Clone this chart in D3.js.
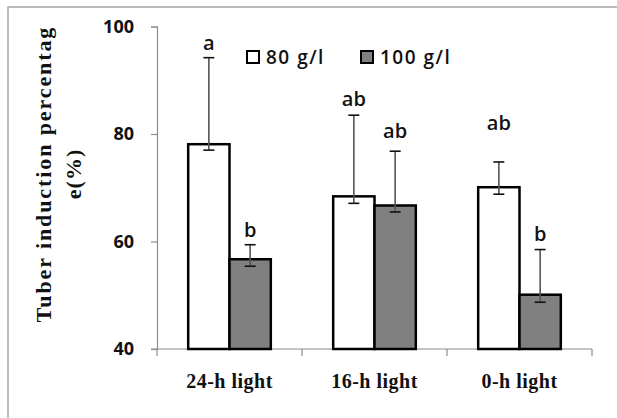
<!DOCTYPE html>
<html>
<head>
<meta charset="utf-8">
<script src="https://cdn.jsdelivr.net/npm/d3@7"></script>
<style>
  html, body { margin: 0; padding: 0; background: #fff; }
  svg { display: block; }
</style>
</head>
<body>
<svg id="chart" width="617" height="418"></svg>
<script>
// ---- data ----
const categories = ["24-h light", "16-h light", "0-h light"];
const seriesNames = ["80 g/l", "100 g/l"];
const values80  = [78.1, 68.4, 70.1];
const values100 = [56.7, 66.7, 50.1];
const errPlus80  = [16.1, 15.1, 4.7];
const errMinus80 = [1.1, 1.3, 1.3];
const errPlus100  = [2.7, 10.1, 8.4];
const errMinus100 = [1.3, 1.2, 1.4];
const letters80  = ["a", "ab", "ab"];
const letters100 = ["b", "ab", "b"];
const letterY80  = [95.6, 85.3, 80.7];
const letterY100 = [60.8, 79.3, 60.1];
const yTicks = [40, 60, 80, 100];
const yTitleLines = ["Tuber induction percentag", "e(%)"];

const series = [
  { name: seriesNames[0], values: values80, plus: errPlus80, minus: errMinus80, letters: letters80, letterY: letterY80, fill: "#ffffff" },
  { name: seriesNames[1], values: values100, plus: errPlus100, minus: errMinus100, letters: letters100, letterY: letterY100, fill: "#808080" }
];

const svg = d3.select("#chart");

// chart area border
svg.append("rect")
  .attr("x", 8).attr("y", 7).attr("width", 640).attr("height", 440)
  .attr("fill", "none").attr("stroke", "#a6a6a6").attr("stroke-width", 1.5);

const x0 = d3.scaleBand().domain(categories).range([157, 592]).paddingInner(0).paddingOuter(0);
const x1 = d3.scaleBand().domain(seriesNames).range([0, x0.bandwidth()]).paddingInner(0).paddingOuter(0.755);
const y = d3.scaleLinear().domain([40, 100]).range([349, 26.5]);

// y axis
const yAxis = svg.append("g").attr("transform", "translate(157,0)")
  .call(d3.axisLeft(y).tickValues(yTicks).tickSize(6).tickPadding(17).tickFormat(d3.format("d")));
yAxis.select(".domain").attr("stroke", "#8c8c8c").attr("stroke-width", 1.2);
yAxis.selectAll(".tick line").attr("stroke", "#8c8c8c").attr("stroke-width", 1.2);
yAxis.selectAll(".tick text")
  .attr("font-family", "'Open Sans', sans-serif").attr("font-size", 18).attr("font-weight", "bold")
  .attr("fill", "#111");

// x axis
const xAxis = svg.append("g").attr("transform", "translate(0,349)");
xAxis.append("line").attr("x1", 151).attr("x2", 592).attr("y1", 0).attr("y2", 0)
  .attr("stroke", "#8c8c8c").attr("stroke-width", 1.2);
const bounds = categories.map(c => x0(c)).concat([x0.range()[1]]);
xAxis.selectAll("line.tk").data(bounds).join("line").attr("class", "tk")
  .attr("x1", d => d).attr("x2", d => d).attr("y1", 0).attr("y2", 7)
  .attr("stroke", "#8c8c8c").attr("stroke-width", 1.2);
xAxis.selectAll("text.cat").data(categories).join("text").attr("class", "cat")
  .attr("x", d => x0(d) + x0.bandwidth() / 2 + 0).attr("y", 39)
  .attr("text-anchor", "middle")
  .attr("font-family", "'Liberation Serif', 'Times New Roman', serif").attr("font-size", 20)
  .attr("font-weight", "bold")
  .attr("letter-spacing", 0.5)
  .attr("fill", "#111")
  .text(d => d);

// bars
const groups = svg.selectAll("g.cat").data(categories).join("g").attr("class", "cat")
  .attr("transform", d => `translate(${x0(d)},0)`);

series.forEach(s => {
  groups.append("rect")
    .attr("x", x1(s.name))
    .attr("y", (d, i) => y(s.values[i]))
    .attr("width", x1.bandwidth())
    .attr("height", (d, i) => y(40) - y(s.values[i]))
    .attr("fill", s.fill).attr("stroke", "#000").attr("stroke-width", 2.5);
});

// error bars
series.forEach(s => {
  const cx = x1(s.name) + x1.bandwidth() / 2;
  groups.append("line")
    .attr("x1", cx).attr("x2", cx)
    .attr("y1", (d, i) => y(s.values[i] + s.plus[i]))
    .attr("y2", (d, i) => y(s.values[i] - s.minus[i]))
    .attr("stroke", "#555").attr("stroke-width", 1.6);
  groups.append("line")
    .attr("x1", cx - 5.5).attr("x2", cx + 5.5)
    .attr("y1", (d, i) => y(s.values[i] + s.plus[i]))
    .attr("y2", (d, i) => y(s.values[i] + s.plus[i]))
    .attr("stroke", "#111").attr("stroke-width", 1.6);
  groups.append("line")
    .attr("x1", cx - 5.5).attr("x2", cx + 5.5)
    .attr("y1", (d, i) => y(s.values[i] - s.minus[i]))
    .attr("y2", (d, i) => y(s.values[i] - s.minus[i]))
    .attr("stroke", "#111").attr("stroke-width", 1.6);
  groups.append("text")
    .attr("x", cx)
    .attr("y", (d, i) => y(s.letterY[i]))
    .attr("text-anchor", "middle")
    .attr("font-family", "'Open Sans', sans-serif").attr("font-size", 20)
    .attr("font-weight", 600)
    .attr("fill", "#111")
    .text((d, i) => s.letters[i]);
});

// legend
const legendX = [247, 361];
const legend = svg.append("g");
series.forEach((s, i) => {
  legend.append("rect")
    .attr("x", legendX[i]).attr("y", 51).attr("width", 12).attr("height", 12)
    .attr("fill", s.fill).attr("stroke", "#000").attr("stroke-width", 2);
  legend.append("text")
    .attr("x", legendX[i] + 19).attr("y", 64)
    .attr("font-family", "'Open Sans', sans-serif").attr("font-size", 19)
    .attr("font-weight", 600)
    .attr("letter-spacing", 1.5)
    .attr("fill", "#111")
    .text(s.name);
});

// y title
const title = svg.append("text")
  .attr("transform", "translate(51,174) rotate(-90)")
  .attr("text-anchor", "middle")
  .attr("font-family", "'Liberation Serif', 'Times New Roman', serif")
  .attr("font-size", 22).attr("font-weight", "bold")
  .attr("fill", "#111");
title.selectAll("tspan").data(yTitleLines).join("tspan")
  .attr("x", 0).attr("dy", (d, i) => i === 0 ? 0 : 30)
  .attr("letter-spacing", (d, i) => i === 0 ? 1.9 : 1)
  .text(d => d);
</script>
</body>
</html>
